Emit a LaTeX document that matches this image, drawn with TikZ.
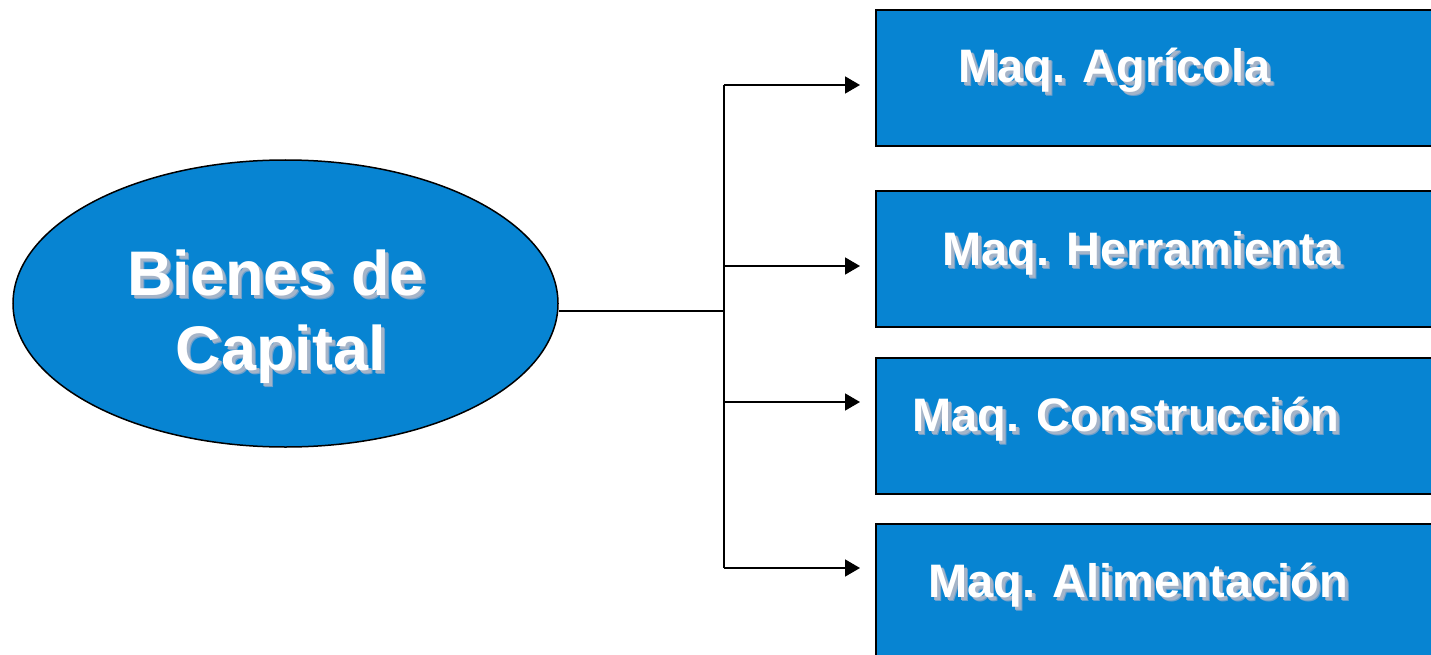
\documentclass[tikz,border=0pt]{standalone}
\usepackage{fontspec}
\setmainfont{Liberation Sans}
\usetikzlibrary{shapes.geometric,arrows.meta}
\definecolor{boxblue}{RGB}{7,132,210}
\definecolor{shadowa}{RGB}{110,160,205}
\definecolor{shadowb}{RGB}{165,180,200}
\newcommand{\shtxt}[1]{\rlap{\kern4pt\raisebox{-4pt}{\color{shadowa}#1}}\rlap{\kern3pt\raisebox{-3pt}{\color{shadowb}#1}}#1}
\begin{document}
\begin{tikzpicture}[x=1pt,y=-1pt,
  box/.style={draw=black,line width=2pt,fill=boxblue,anchor=north west,minimum width=580pt,inner sep=0pt},
  conn/.style={line width=1.6pt,draw=black},
  arr/.style={conn,-{Triangle[length=15pt,width=17pt]},shorten >=15pt},
  lbl/.style={font=\bfseries\fontsize{47}{56}\selectfont,text=white,anchor=base west,inner sep=0pt},
  big/.style={font=\bfseries\fontsize{63}{74}\selectfont,text=white,anchor=base,inner sep=0pt}]
\useasboundingbox (0,0) rectangle (1431,655);
\clip (0,0) rectangle (1431,655);
% boxes
\node[box,minimum height=136pt] (b1) at (875,9) {};
\node[box,minimum height=136pt] (b2) at (875,190) {};
\node[box,minimum height=136pt] (b3) at (875,357) {};
\node[box,minimum height=160pt] (b4) at (875,523) {};
% ellipse
\node[ellipse,draw=black,line width=1.5pt,fill=boxblue,minimum width=545pt,minimum height=287pt,inner sep=0pt] (bc) at (285.5,303.5) {};
% labels
\node[big] (t1) at (276,295) {\shtxt{Bienes de}};
\node[big] (t2) at (281,370) {\shtxt{Capital}};
\node[lbl] (la) at (958,83) {\shtxt{Maq. Agrícola}};
\node[lbl] (lb) at (942,265) {\shtxt{Maq. Herramienta}};
\node[lbl] (lc) at (912,431) {\shtxt{Maq. Construcción}};
\node[lbl] (ld) at (928,597) {\shtxt{Maq. Alimentación}};
% connectors
\coordinate (j0) at (724,311);
\coordinate (j1) at (724,85);
\coordinate (j2) at (724,266);
\coordinate (j3) at (724,402);
\coordinate (j4) at (724,568);
\draw[conn] (bc.east |- j0) -- (j0);
\draw[conn] (j1) -- (j4);
\draw[arr] (j1) -- (b1.west |- j1);
\draw[arr] (j2) -- (b2.west |- j2);
\draw[arr] (j3) -- (b3.west |- j3);
\draw[arr] (j4) -- (b4.west |- j4);
\end{tikzpicture}
\end{document}
